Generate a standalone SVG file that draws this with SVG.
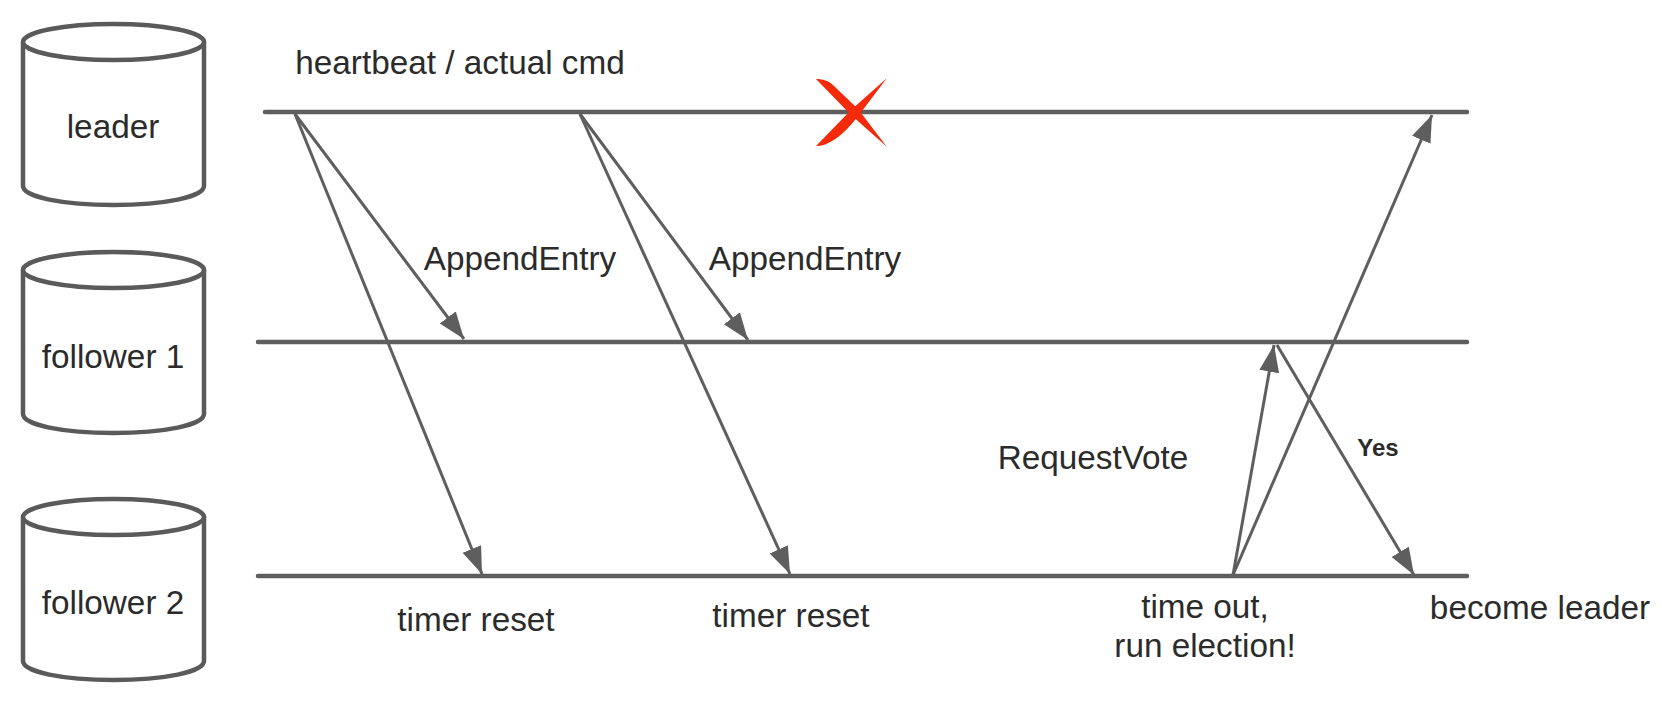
<svg xmlns="http://www.w3.org/2000/svg" width="1662" height="701" viewBox="0 0 1662 701">
<style>
text{font-family:"Liberation Sans",Arial,sans-serif;font-size:33.300px;fill:#2b2b2b;text-anchor:middle}
.cyl{fill:#fff;stroke:#5a5a5a;stroke-width:4.500}
.tl{stroke:#5e5e5e;stroke-width:4.500;stroke-linecap:round;fill:none}
.ar{stroke:#5e5e5e;stroke-width:3;fill:none;marker-end:url(#a)}
</style>
<defs>
<marker id="a" markerUnits="userSpaceOnUse" markerWidth="30" markerHeight="24" refX="27" refY="10" orient="auto"><path d="M0 0L27 10L0 20Z" fill="#5e5e5e"/></marker>
<g id="c"><path class="cyl" d="M0 19V163C0 174 40 182 90.500 182S181 174 181 163V19"/><ellipse class="cyl" cx="90.500" cy="19" rx="90.500" ry="18"/></g>
</defs>
<rect width="1662" height="701" fill="#fff"/>
<g id="leader"><use href="#c" x="23" y="23"/><text x="113" y="138">leader</text></g>
<g id="follower1"><use href="#c" x="23" y="251"/><text x="113" y="368">follower 1</text></g>
<g id="follower2"><use href="#c" x="23" y="498"/><text x="113" y="614">follower 2</text></g>
<g id="connectors">
<path class="tl" d="M265 112H1467M258 342H1467M258 576H1467"/>
<path class="ar" d="M295 114L464 339"/>
<path class="ar" d="M295 114L482 574"/>
<path class="ar" d="M580 114L748 340"/>
<path class="ar" d="M580 114L790 574"/>
<path class="ar" d="M1233 575L1274 345"/>
<path class="ar" d="M1233 575L1432 115"/>
<path class="ar" d="M1277 345L1414 575"/>
</g>
<g id="cross"><path fill="#f52a0a" d="M816 79C824 79 829 81 834 86L858 109L887 147L850 114ZM887 78L862 111C850 127 841 136 832 141C827 144 822 146 816 146L851 110Z"/></g>
<g id="labels">
<text x="460" y="74">heartbeat / actual cmd</text>
<text x="520" y="270">AppendEntry</text>
<text x="805" y="270">AppendEntry</text>
<text x="1093" y="469">RequestVote</text>
<text x="1378" y="456" style="font-size:24px;font-weight:700">Yes</text>
<text x="476" y="631">timer reset</text>
<text x="791" y="627">timer reset</text>
<text x="1205" y="618">time out,</text>
<text x="1205" y="657">run election!</text>
<text x="1540" y="619">become leader</text>
</g>
</svg>
